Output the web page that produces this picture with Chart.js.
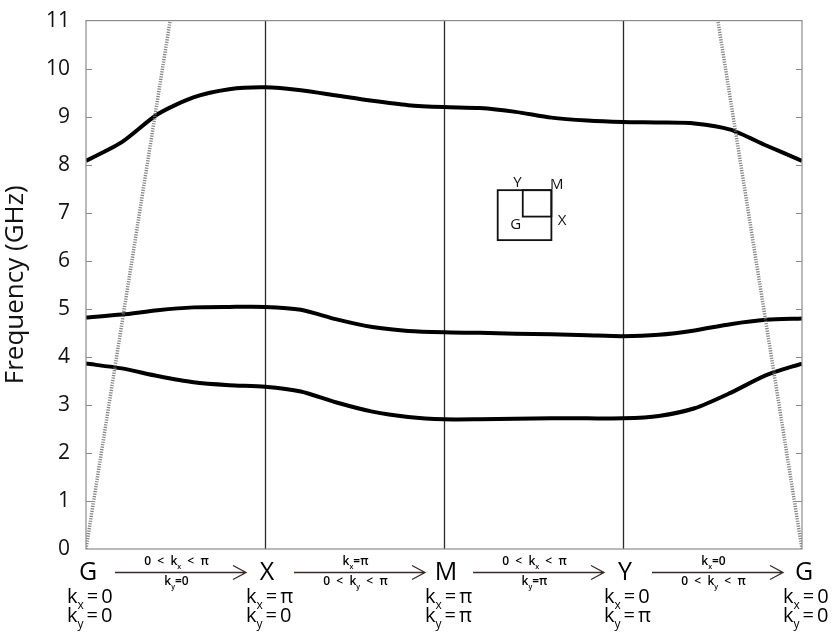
<!DOCTYPE html>
<html>
<head>
<meta charset="utf-8">
<script src="https://cdn.jsdelivr.net/npm/chart.js@4.4.1/dist/chart.umd.min.js"></script>
<style>
    html, body { margin: 0; padding: 0; background: #fff; }
    #wrap { width: 834px; height: 639px; }
</style>
</head>
<body>
<div id="wrap"><canvas id="bands"></canvas></div>
<script>
// --- Band structure data (k along G-X-M-Y-G, frequency in GHz) ---
const kPath = [0, 0.2, 0.4, 0.6, 0.8, 1.0, 1.2, 1.4, 1.6, 1.8, 2.0,
               2.2, 2.4, 2.6, 2.8, 3.0, 3.2, 3.4, 3.6, 3.8, 4.0];

const band3 = [8.08, 8.47, 9.05, 9.40, 9.57, 9.61, 9.55, 9.44, 9.33, 9.24, 9.20,
               9.18, 9.10, 8.98, 8.92, 8.89, 8.88, 8.86, 8.73, 8.40, 8.08];
const band2 = [4.82, 4.88, 4.97, 5.03, 5.04, 5.04, 4.98, 4.78, 4.62, 4.54, 4.51,
               4.50, 4.48, 4.47, 4.45, 4.43, 4.46, 4.55, 4.68, 4.77, 4.80];
const band1 = [3.86, 3.76, 3.60, 3.47, 3.41, 3.38, 3.28, 3.05, 2.86, 2.75, 2.70,
               2.70, 2.71, 2.72, 2.72, 2.72, 2.77, 2.93, 3.25, 3.62, 3.86];

// light lines from G on both ends
const lightLeftK = [0, 0.47];
const lightLeftF = [0, 11];
const lightRightK = [4, 3.53];
const lightRightF = [0, 11];

// path labels under the plot
const nodeK = [0, 1, 2, 3, 4];
const nodeLabels = ['G', 'X', 'M', 'Y', 'G'];
const nodeKx = ['0', 'π', 'π', '0', '0'];
const nodeKy = ['0', '0', 'π', 'π', '0'];
const pathAbove = ['0 < k_x < π', 'k_x=π', '0 < k_x < π', 'k_x=0'];
const pathBelow = ['k_y=0', '0 < k_y < π', 'k_y=π', '0 < k_y < π'];

// Brillouin zone sketch (in plot units)
const zoneOuterK = [2.30, 2.60];
const zoneOuterF = [6.43, 7.47];
const zoneInnerK = [2.44, 2.60];
const zoneInnerF = [6.92, 7.47];
const zoneLabels = ['Y', 'M', 'G', 'X'];
const zoneLabelK = [2.41, 2.63, 2.40, 2.66];
const zoneLabelF = [7.63, 7.59, 6.76, 6.84];

const FONT = '"Open Sans", "Noto Sans", sans-serif';

function pairs(xs, ys) {
    return xs.map((x, i) => ({ x: x, y: ys[i] }));
}

// draws text where "k_x" style tokens get a lowered small letter;
// gap adds a little room around "="
function drawRich(ctx, text, x, y, size, align, weight, gap) {
    const w = weight || 'normal';
    const g = gap || 0;
    const parts = [];
    for (let i = 0; i < text.length; i++) {
        if (text[i] === '_' && i + 1 < text.length) {
            parts.push({ t: text[i + 1], sub: true });
            i++;
        } else {
            parts.push({ t: text[i], sub: false });
        }
    }
    const subSize = Math.round(size * 0.62);
    let total = 0;
    parts.forEach(p => {
        ctx.font = `${w} ${p.sub ? subSize : size}px ${FONT}`;
        p.w = ctx.measureText(p.t).width + (p.t === '=' ? 2 * g : 0);
        total += p.w;
    });
    let cx = align === 'center' ? x - total / 2 : x;
    ctx.textAlign = 'left';
    ctx.textBaseline = 'alphabetic';
    parts.forEach(p => {
        ctx.font = `${w} ${p.sub ? subSize : size}px ${FONT}`;
        const off = p.t === '=' ? g : 0;
        ctx.fillText(p.t, cx + off, y + (p.sub ? size * 0.32 : 0));
        cx += p.w;
    });
}

const decorPlugin = {
    id: 'bandDecor',
    beforeDatasetsDraw(chart) {
        const { ctx, chartArea: a, scales: { x } } = chart;
        ctx.save();
        // symmetry point lines
        ctx.strokeStyle = '#2a2a2a';
        ctx.lineWidth = 1.3;
        [1, 2, 3].forEach(k => {
            const px = Math.round(x.getPixelForValue(k)) + 0.5;
            ctx.beginPath();
            ctx.moveTo(px, a.top);
            ctx.lineTo(px, a.bottom);
            ctx.stroke();
        });
        ctx.restore();
    },
    afterDraw(chart) {
        const { ctx, chartArea: a, scales: { x, y } } = chart;
        ctx.save();

        // frame and inward ticks
        ctx.strokeStyle = '#8c8c8c';
        ctx.lineWidth = 1.2;
        ctx.strokeRect(a.left, a.top, a.right - a.left, a.bottom - a.top);
        for (let f = 1; f < 11; f++) {
            const py = Math.round(y.getPixelForValue(f)) + 0.5;
            ctx.beginPath();
            ctx.moveTo(a.left, py); ctx.lineTo(a.left + 6, py);
            ctx.moveTo(a.right, py); ctx.lineTo(a.right - 6, py);
            ctx.stroke();
        }

        // Brillouin zone sketch
        ctx.strokeStyle = '#111';
        ctx.lineWidth = 1.8;
        const ox0 = x.getPixelForValue(zoneOuterK[0]), ox1 = x.getPixelForValue(zoneOuterK[1]);
        const oy0 = y.getPixelForValue(zoneOuterF[1]), oy1 = y.getPixelForValue(zoneOuterF[0]);
        ctx.strokeRect(ox0, oy0, ox1 - ox0, oy1 - oy0);
        const ix0 = x.getPixelForValue(zoneInnerK[0]), ix1 = x.getPixelForValue(zoneInnerK[1]);
        const iy0 = y.getPixelForValue(zoneInnerF[1]), iy1 = y.getPixelForValue(zoneInnerF[0]);
        ctx.strokeRect(ix0, iy0, ix1 - ix0, iy1 - iy0);
        ctx.fillStyle = '#111';
        ctx.font = `15px ${FONT}`;
        ctx.textAlign = 'center';
        ctx.textBaseline = 'middle';
        zoneLabels.forEach((t, i) => {
            ctx.fillText(t, x.getPixelForValue(zoneLabelK[i]), y.getPixelForValue(zoneLabelF[i]));
        });

        // path labels along the bottom
        const base = a.bottom;
        ctx.fillStyle = '#000';
        nodeK.forEach((k, i) => {
            const px = x.getPixelForValue(k);
            ctx.font = `25px ${FONT}`;
            ctx.textAlign = 'center';
            ctx.textBaseline = 'alphabetic';
            ctx.fillText(nodeLabels[i], px + 2, base + 31);
            drawRich(ctx, 'k_x=' + nodeKx[i], px - 19, base + 54, 20, 'left', 'normal', 3);
            drawRich(ctx, 'k_y=' + nodeKy[i], px - 19, base + 73, 20, 'left', 'normal', 3);
        });

        ctx.strokeStyle = '#3a2a2a';
        ctx.lineWidth = 1.3;
        for (let i = 0; i < 4; i++) {
            const x0 = x.getPixelForValue(nodeK[i]) + 29;
            const x1 = x.getPixelForValue(nodeK[i + 1]) - 19;
            const ay = base + 23.5;
            ctx.beginPath();
            ctx.moveTo(x0, ay); ctx.lineTo(x1, ay);
            ctx.moveTo(x1 - 13, ay - 7); ctx.lineTo(x1, ay); ctx.lineTo(x1 - 13, ay + 7);
            ctx.stroke();
            const mid = (x0 + x1) / 2 - 4;
            ctx.fillStyle = '#000';
            drawRich(ctx, pathAbove[i].replace(/ /g, '  '), mid, base + 16, 12, 'center', '600', 0);
            drawRich(ctx, pathBelow[i].replace(/ /g, '  '), mid, base + 36, 12, 'center', '600', 0);
        }
        ctx.restore();
    }
};

const bandStyle = {
    borderColor: '#000',
    borderWidth: 4,
    pointRadius: 0,
    tension: 0.25,
    fill: false
};
const lightStyle = {
    borderColor: 'rgba(110,110,110,0.85)',
    borderWidth: 3.5,
    borderDash: [1.2, 1.3],
    pointRadius: 0,
    fill: false
};

new Chart(document.getElementById('bands'), {
    type: 'line',
    data: {
        datasets: [
            { label: 'light L', data: pairs(lightLeftK, lightLeftF), ...lightStyle },
            { label: 'light R', data: pairs(lightRightK, lightRightF), ...lightStyle },
            { label: 'band 1', data: pairs(kPath, band1), ...bandStyle },
            { label: 'band 2', data: pairs(kPath, band2), ...bandStyle },
            { label: 'band 3', data: pairs(kPath, band3), ...bandStyle }
        ]
    },
    options: {
        responsive: true,
        maintainAspectRatio: false,
        animation: false,
        layout: { padding: { left: 0, right: 32, top: 10, bottom: 90 } },
        plugins: {
            legend: { display: false },
            tooltip: { enabled: false }
        },
        scales: {
            x: {
                type: 'linear',
                min: 0,
                max: 4,
                display: false
            },
            y: {
                min: 0,
                max: 11,
                afterFit: s => { s.width = 86; },
                grid: { display: false },
                border: { display: false },
                ticks: {
                    stepSize: 1,
                    color: '#111',
                    padding: 8,
                    font: { family: FONT, size: 21 }
                },
                title: {
                    display: true,
                    text: 'Frequency (GHz)',
                    color: '#111',
                    padding: { top: 0, bottom: 2 },
                    font: { family: FONT, size: 26 }
                }
            }
        }
    },
    plugins: [decorPlugin]
});
</script>
</body>
</html>
